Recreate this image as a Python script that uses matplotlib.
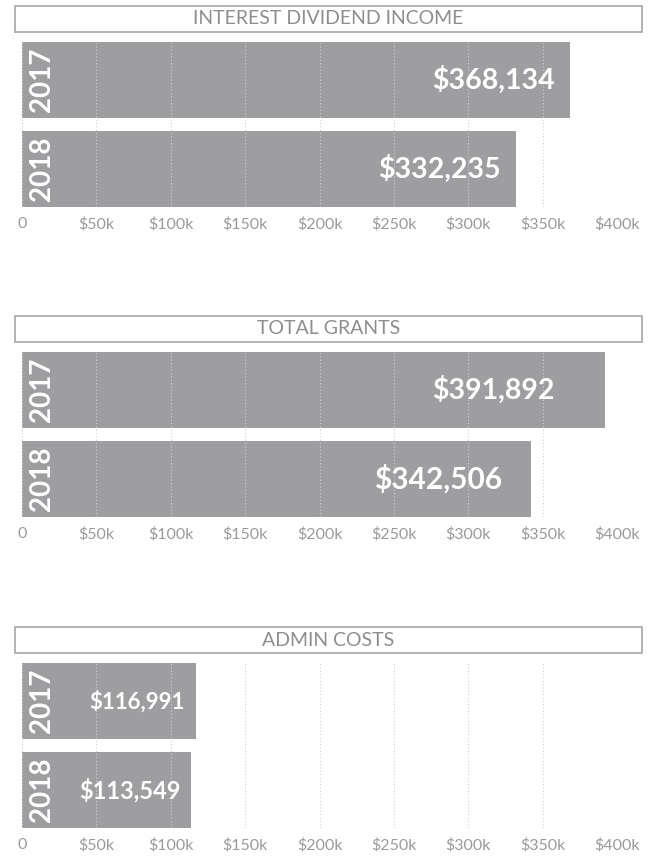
import matplotlib
matplotlib.use("Agg")
import matplotlib.pyplot as plt
from matplotlib.patches import Rectangle

titles = ["INTEREST DIVIDEND INCOME", "TOTAL GRANTS", "ADMIN COSTS"]
years = ["2017", "2018"]
values_interest = [368134, 332235]
values_grants = [391892, 342506]
values_admin = [116991, 113549]
tick_values = [0, 50000, 100000, 150000, 200000, 250000, 300000, 350000, 400000]
tick_labels = ["0", "$50k", "$100k", "$150k", "$200k", "$250k", "$300k", "$350k", "$400k"]

series = [values_interest, values_grants, values_admin]

# label styling per panel (offset from bar end in points, font size)
label_offsets = [[-11, -11], [-36, -21], [-8, -7]]
label_sizes = [[20.5, 20.5], [20.5, 21.5], [16, 17]]

W, H = 648, 856
fig = plt.figure(figsize=(W / 100, H / 100), dpi=100)
plt.rcParams['font.family'] = ['Lato', 'DejaVu Sans']

bar_color = "#9e9ea0"
text_gray = "#8e8e8e"
tick_gray = "#9a9a9a"

offsets = [0, 310, 621]
for title, vals, off, loffs, lsizes in zip(titles, series, offsets, label_offsets, label_sizes):
    bx0, bx1 = 15, 642
    by0, by1 = 6 + off, 32 + off
    fig.add_artist(Rectangle((bx0 / W, 1 - by1 / H), (bx1 - bx0) / W, (by1 - by0) / H,
                             transform=fig.transFigure, fill=False,
                             edgecolor="#a6a6a6", linewidth=1.2))
    fig.text((bx0 + bx1) / 2 / W, 1 - (by0 + by1) / 2 / H, title,
             ha="center", va="center", fontsize=14, color=text_gray,
             fontweight="normal")

    top, bottom = 42 + off, 207 + off
    left, right = 22, 617
    ax = fig.add_axes([left / W, 1 - bottom / H, (right - left) / W, (bottom - top) / H])
    ypos = list(range(len(years)))
    ax.barh(ypos, vals, height=0.855, color=bar_color, zorder=1)
    ax.set_ylim(len(years) - 1 + 0.43, -0.43)
    ax.set_xlim(0, 400000)
    ax.set_xticks(tick_values)
    ax.set_xticklabels(tick_labels, color=tick_gray, fontsize=11.5)
    ax.tick_params(axis="x", length=0, pad=7)
    ax.set_yticks([])
    for s in ax.spines.values():
        s.set_visible(False)
    ax.grid(axis="x", linestyle=(0, (1, 2)), color="#d0d0d0", linewidth=0.8, zorder=2)
    ax.set_axisbelow(False)
    for y, v, yr, lo, ls in zip(ypos, vals, years, loffs, lsizes):
        ax.annotate(f"${v:,}", xy=(v, y), xytext=(lo, 0), textcoords="offset points",
                    ha="right", va="center", color="white", fontsize=ls,
                    fontweight="bold", zorder=3)
        ax.annotate(yr, xy=(0, y), xytext=(14.5, 0), textcoords="offset points",
                    ha="center", va="center", color="white", fontsize=20,
                    fontweight="bold", rotation=90, zorder=3)

fig.savefig("out.png", dpi=100)
